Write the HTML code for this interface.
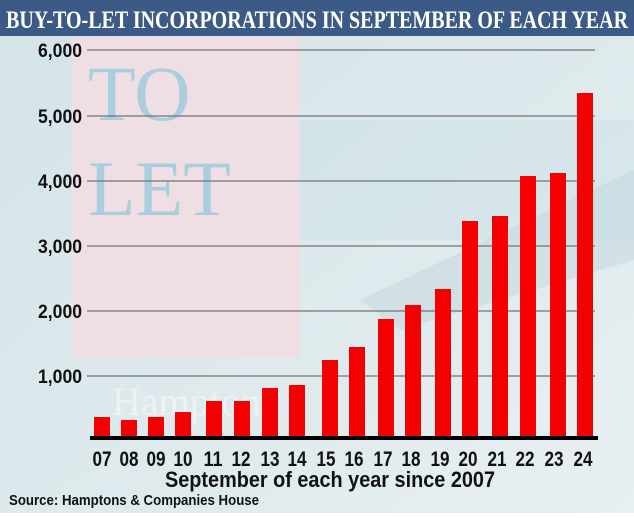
<!DOCTYPE html>
<html><head><style>
body{margin:0;width:634px;height:513px;overflow:hidden;font-family:"Liberation Sans",sans-serif}
</style></head><body>
<svg width="634" height="513" viewBox="0 0 634 513" xmlns="http://www.w3.org/2000/svg">
<defs>
<linearGradient id="bg" x1="0" y1="0" x2="1" y2="1">
<stop offset="0" stop-color="#d3e3e8"/><stop offset="0.5" stop-color="#dde9ec"/><stop offset="1" stop-color="#e8eff2"/>
</linearGradient>
</defs>
<rect width="634" height="513" fill="url(#bg)"/>
<rect x="72" y="38" width="228" height="320" fill="#efdfe5"/>
<rect x="300" y="120" width="334" height="120" fill="#c9dfe4" opacity="0.4"/>
<polygon points="360,300 634,170 634,260 400,330" fill="#b8d2d9" opacity="0.4"/>
<text x="88" y="120" font-family="Liberation Serif" font-size="78" fill="#a9cedd">TO</text>
<text x="88" y="215" font-family="Liberation Serif" font-size="78" fill="#a9cedd">LET</text>
<text x="112" y="415" font-family="Liberation Serif" font-size="40" fill="#f4f4f6" opacity="0.8">Hampton</text>
<rect width="634" height="36" fill="#3b5a86"/>
<text x="317" y="28" text-anchor="middle" font-family="Liberation Serif" font-weight="bold" font-size="25" fill="#fff" textLength="622" lengthAdjust="spacingAndGlyphs">BUY-TO-LET INCORPORATIONS IN SEPTEMBER OF EACH YEAR</text>
<g stroke="#6f7377" stroke-width="1.2">
<line x1="87" x2="595" y1="50" y2="50"/><line x1="87" x2="595" y1="116" y2="116"/>
<line x1="87" x2="595" y1="181" y2="181"/><line x1="87" x2="595" y1="246" y2="246"/>
<line x1="87" x2="595" y1="311" y2="311"/><line x1="87" x2="595" y1="376" y2="376"/>
</g>
<g font-weight="bold" font-size="19" fill="#111" text-anchor="end">
<text x="82" y="57" textLength="44" lengthAdjust="spacingAndGlyphs">6,000</text>
<text x="82" y="123" textLength="44" lengthAdjust="spacingAndGlyphs">5,000</text>
<text x="82" y="188" textLength="44" lengthAdjust="spacingAndGlyphs">4,000</text>
<text x="82" y="253" textLength="44" lengthAdjust="spacingAndGlyphs">3,000</text>
<text x="82" y="318" textLength="44" lengthAdjust="spacingAndGlyphs">2,000</text>
<text x="82" y="383" textLength="44" lengthAdjust="spacingAndGlyphs">1,000</text>
</g>
<g fill="#f50000">
<rect x="94" y="417" width="16" height="22"/>
<rect x="121" y="420" width="16" height="19"/>
<rect x="148" y="417" width="16" height="22"/>
<rect x="175" y="412" width="16" height="27"/>
<rect x="206" y="401" width="16" height="38"/>
<rect x="234" y="401" width="16" height="38"/>
<rect x="262" y="388" width="16" height="51"/>
<rect x="289" y="385" width="16" height="54"/>
<rect x="322" y="360" width="16" height="79"/>
<rect x="349" y="347" width="16" height="92"/>
<rect x="378" y="319" width="16" height="120"/>
<rect x="405" y="305" width="16" height="134"/>
<rect x="435" y="289" width="16" height="150"/>
<rect x="462" y="221" width="16" height="218"/>
<rect x="492" y="216" width="16" height="223"/>
<rect x="520" y="176" width="16" height="263"/>
<rect x="550" y="173" width="16" height="266"/>
<rect x="577" y="93" width="16" height="346"/>
</g>
<rect x="90" y="436" width="508" height="4" fill="#000"/>
<g font-weight="bold" font-size="21" fill="#111" text-anchor="middle">
<text x="102" y="466" textLength="19" lengthAdjust="spacingAndGlyphs">07</text>
<text x="129" y="466" textLength="19" lengthAdjust="spacingAndGlyphs">08</text>
<text x="156" y="466" textLength="19" lengthAdjust="spacingAndGlyphs">09</text>
<text x="183" y="466" textLength="19" lengthAdjust="spacingAndGlyphs">10</text>
<text x="213" y="466" textLength="19" lengthAdjust="spacingAndGlyphs">11</text>
<text x="241" y="466" textLength="19" lengthAdjust="spacingAndGlyphs">12</text>
<text x="270" y="466" textLength="19" lengthAdjust="spacingAndGlyphs">13</text>
<text x="297" y="466" textLength="19" lengthAdjust="spacingAndGlyphs">14</text>
<text x="326" y="466" textLength="19" lengthAdjust="spacingAndGlyphs">15</text>
<text x="354" y="466" textLength="19" lengthAdjust="spacingAndGlyphs">16</text>
<text x="383" y="466" textLength="19" lengthAdjust="spacingAndGlyphs">17</text>
<text x="411" y="466" textLength="19" lengthAdjust="spacingAndGlyphs">18</text>
<text x="440" y="466" textLength="19" lengthAdjust="spacingAndGlyphs">19</text>
<text x="468" y="466" textLength="19" lengthAdjust="spacingAndGlyphs">20</text>
<text x="497" y="466" textLength="19" lengthAdjust="spacingAndGlyphs">21</text>
<text x="525" y="466" textLength="19" lengthAdjust="spacingAndGlyphs">22</text>
<text x="554" y="466" textLength="19" lengthAdjust="spacingAndGlyphs">23</text>
<text x="583" y="466" textLength="19" lengthAdjust="spacingAndGlyphs">24</text>
</g>
<text x="165" y="487" font-weight="bold" font-size="22" fill="#111" textLength="330" lengthAdjust="spacingAndGlyphs">September of each year since 2007</text>
<text x="9" y="505" font-weight="bold" font-size="15" fill="#111" textLength="250" lengthAdjust="spacingAndGlyphs">Source: Hamptons &amp; Companies House</text>
</svg>
</body></html>
